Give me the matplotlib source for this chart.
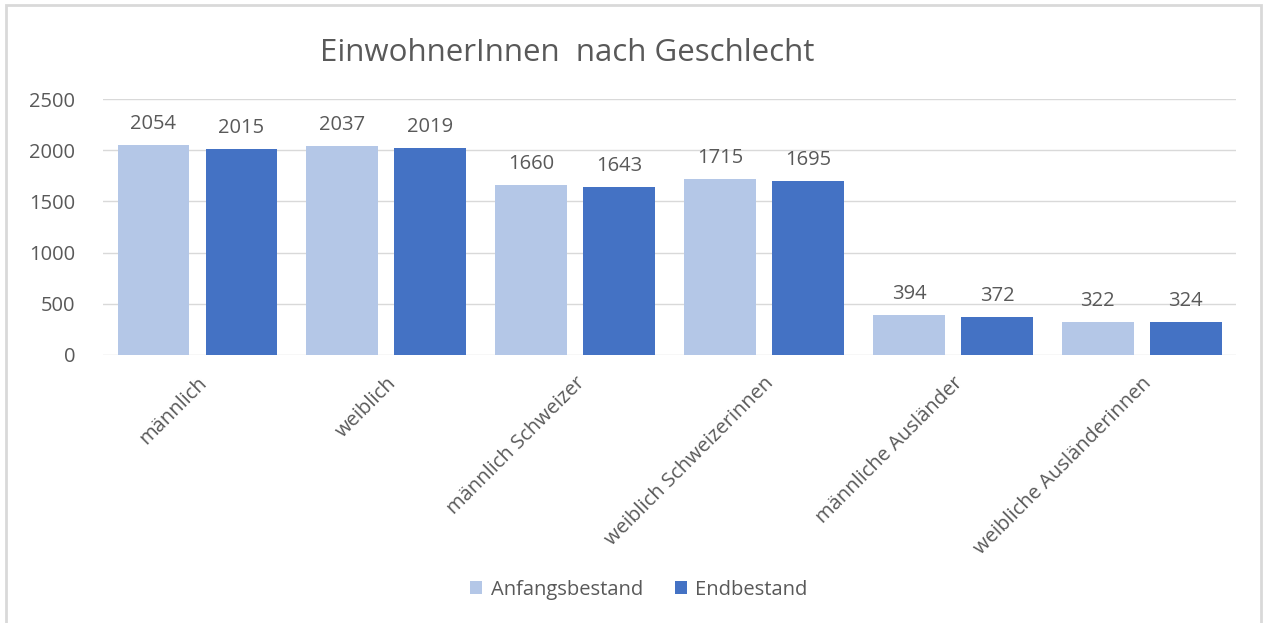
import matplotlib
matplotlib.use("Agg")
import matplotlib.pyplot as plt
import numpy as np
from matplotlib.patches import Rectangle

kategorien = ["männlich", "weiblich", "männlich Schweizer", "weiblich Schweizerinnen",
              "männliche Ausländer", "weibliche Ausländerinnen"]
anfangsbestand = [2054, 2037, 1660, 1715, 394, 322]
endbestand = [2015, 2019, 1643, 1695, 372, 324]
serien = ["Anfangsbestand", "Endbestand"]

hell = "#B4C7E7"
dunkel = "#4472C4"
grau = "#595959"

plt.rcParams['font.family'] = ['Open Sans', 'DejaVu Sans']

fig = plt.figure(figsize=(12.64, 6.23), dpi=100)
ax = fig.add_axes([0.0815, 0.4302, 0.8965, 0.4108])

x = np.arange(len(kategorien))
b = 0.38
r1 = ax.bar(x - 0.233, anfangsbestand, b, color=hell, label=serien[0], zorder=3)
r2 = ax.bar(x + 0.233, endbestand, b, color=dunkel, label=serien[1], zorder=3)

for rects, werte in [(r1, anfangsbestand), (r2, endbestand)]:
    for rect, w in zip(rects, werte):
        ax.annotate(str(w), (rect.get_x() + rect.get_width() / 2, w),
                    xytext=(0, 8), textcoords="offset points",
                    ha="center", va="bottom", fontsize=14.5, color=grau)

ax.set_xlim(-0.5, 5.5)
ax.set_ylim(0, 2500)
ax.set_yticks([0, 500, 1000, 1500, 2000, 2500])
ax.yaxis.grid(True, color="#D9D9D9", linewidth=1, zorder=0)
ax.set_axisbelow(True)
for s in ax.spines.values():
    s.set_visible(False)
ax.tick_params(axis="y", length=0, labelsize=14.5, labelcolor=grau, pad=20)
ax.tick_params(axis="x", length=0, labelsize=14.5, labelcolor=grau, pad=13)
ax.set_xticks(x)
ax.set_xticklabels(kategorien, rotation=45, ha="right", rotation_mode="anchor")

fig.text(0.449, 0.915, "EinwohnerInnen  nach Geschlecht", ha="center", va="center",
         fontsize=22.5, color=grau)

fig.legend(handles=[r1, r2], labels=serien, loc="center", bbox_to_anchor=(0.5055, 0.053),
           ncol=2, frameon=False, fontsize=14.5, labelcolor=grau,
           handlelength=0.6, handleheight=0.6, handletextpad=0.4, columnspacing=1.6)

fig.patches.append(Rectangle((0.005, -0.01), 0.993, 1.002, transform=fig.transFigure,
                             fill=False, edgecolor="#D9D9D9", linewidth=2))

fig.savefig("out.png", dpi=100, facecolor="white")
